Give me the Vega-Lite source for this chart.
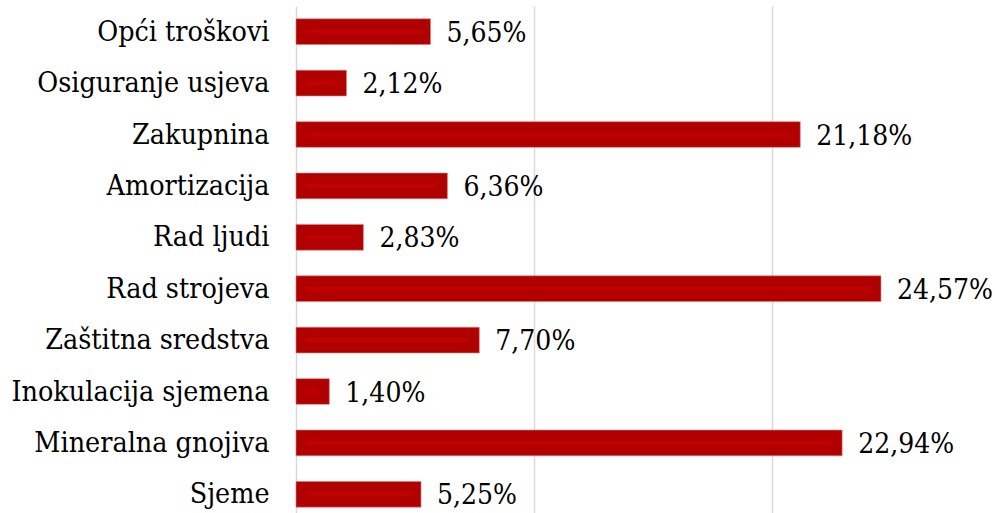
{
  "$schema": "https://vega.github.io/schema/vega-lite/v6.json",
  "width": 699,
  "height": 514,
  "autosize": "none",
  "padding": {"left": 296, "top": 6, "right": 0, "bottom": 0},
  "background": "white",
  "config": {
    "view": {"stroke": null},
    "locale": {"number": {"decimal": ",", "thousands": ".", "grouping": [3], "currency": ["", " €"]}},
    "font": "DejaVu Serif Condensed"
  },
  "data": {
    "values": [
      {"kategorija": "Opći troškovi", "udio": 0.0565},
      {"kategorija": "Osiguranje usjeva", "udio": 0.0212},
      {"kategorija": "Zakupnina", "udio": 0.2118},
      {"kategorija": "Amortizacija", "udio": 0.0636},
      {"kategorija": "Rad ljudi", "udio": 0.0283},
      {"kategorija": "Rad strojeva", "udio": 0.2457},
      {"kategorija": "Zaštitna sredstva", "udio": 0.077},
      {"kategorija": "Inokulacija sjemena", "udio": 0.014},
      {"kategorija": "Mineralna gnojiva", "udio": 0.2294},
      {"kategorija": "Sjeme", "udio": 0.0525}
    ]
  },
  "encoding": {
    "y": {
      "field": "kategorija",
      "type": "nominal",
      "sort": null,
      "scale": {"paddingInner": 0.5, "paddingOuter": 0.25},
      "axis": {
        "title": null,
        "domain": false,
        "ticks": false,
        "labelPadding": 27,
        "labelFont": "DejaVu Serif Condensed",
        "labelFontSize": 28.4,
        "labelColor": "#000000",
        "labelLimit": 400
      }
    }
  },
  "layer": [
    {
      "mark": {"type": "bar", "color": "#b00000", "stroke": "#d98080", "strokeWidth": 0.6},
      "encoding": {
        "x": {
          "field": "udio",
          "type": "quantitative",
          "stack": null,
          "scale": {"domain": [0, 0.2936], "nice": false, "zero": true},
          "axis": {
            "title": null,
            "values": [0, 0.1, 0.2],
            "labels": false,
            "ticks": false,
            "domain": false,
            "grid": true,
            "gridColor": "#d9d9d9",
            "gridWidth": 1.5
          }
        }
      }
    },
    {
      "mark": {"type": "bar", "color": "#c20000", "height": 4, "xOffset": -11, "x2Offset": 10},
      "encoding": {
        "x": {"field": "udio", "type": "quantitative", "stack": null},
        "x2": {"datum": 0}
      }
    },
    {
      "mark": {"type": "text", "align": "left", "baseline": "middle", "dx": 16, "dy": 2, "font": "DejaVu Serif Condensed", "fontSize": 28, "color": "#000000"},
      "encoding": {
        "x": {"field": "udio", "type": "quantitative", "stack": null},
        "text": {"field": "udio", "type": "quantitative", "format": ".2%"}
      }
    }
  ]
}
